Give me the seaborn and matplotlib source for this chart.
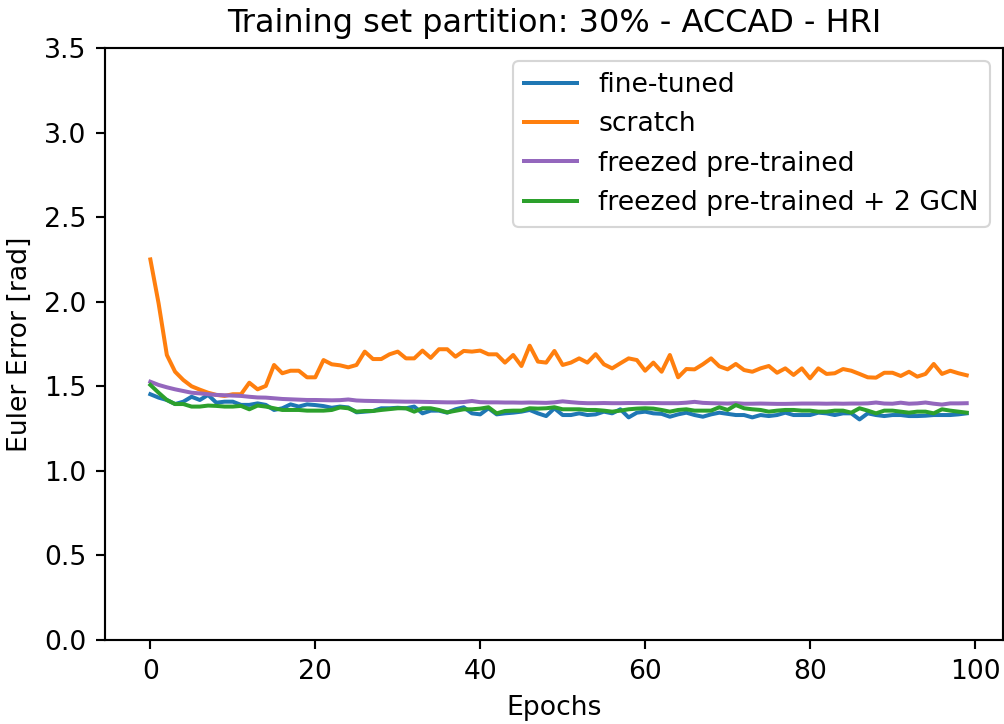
import numpy as np
import pandas as pd
import matplotlib
matplotlib.use("Agg")
import matplotlib.pyplot as plt
import seaborn as sns

title = "Training set partition: 30% - ACCAD - HRI"
labels = ["fine-tuned", "scratch", "freezed pre-trained", "freezed pre-trained + 2 GCN"]
colors = ["#1f77b4", "#ff7f0e", "#9467bd", "#2ca02c"]

fine_tuned = [
    1.453, 1.433, 1.419, 1.395, 1.409, 1.438, 1.419, 1.449, 1.403, 1.409,
    1.409, 1.390, 1.390, 1.399, 1.390, 1.360, 1.370, 1.393, 1.380, 1.393,
    1.389, 1.383, 1.373, 1.380, 1.375, 1.346, 1.350, 1.354, 1.370, 1.370,
    1.373, 1.370, 1.380, 1.340, 1.356, 1.356, 1.344, 1.364, 1.376, 1.340,
    1.334, 1.370, 1.334, 1.340, 1.344, 1.350, 1.360, 1.340, 1.324, 1.370,
    1.330, 1.330, 1.340, 1.330, 1.334, 1.350, 1.340, 1.364, 1.316, 1.344,
    1.350, 1.340, 1.337, 1.320, 1.334, 1.344, 1.330, 1.320, 1.334, 1.344,
    1.337, 1.330, 1.330, 1.316, 1.330, 1.324, 1.330, 1.344, 1.330, 1.330,
    1.330, 1.344, 1.340, 1.330, 1.340, 1.340, 1.304, 1.340, 1.330, 1.324,
    1.330, 1.330, 1.324, 1.324, 1.326, 1.330, 1.330, 1.330, 1.334, 1.340,
]

scratch = [
    2.250, 1.990, 1.685, 1.586, 1.537, 1.500, 1.480, 1.462, 1.449, 1.443,
    1.453, 1.453, 1.521, 1.482, 1.502, 1.626, 1.577, 1.592, 1.592, 1.553,
    1.553, 1.655, 1.630, 1.624, 1.612, 1.626, 1.705, 1.661, 1.661, 1.689,
    1.705, 1.665, 1.665, 1.711, 1.668, 1.719, 1.719, 1.675, 1.709, 1.705,
    1.711, 1.689, 1.689, 1.640, 1.685, 1.620, 1.740, 1.646, 1.640, 1.709,
    1.626, 1.640, 1.665, 1.640, 1.690, 1.630, 1.606, 1.636, 1.665, 1.655,
    1.592, 1.640, 1.586, 1.685, 1.553, 1.602, 1.600, 1.630, 1.665, 1.618,
    1.600, 1.632, 1.596, 1.586, 1.606, 1.620, 1.580, 1.606, 1.567, 1.606,
    1.547, 1.606, 1.573, 1.577, 1.602, 1.592, 1.573, 1.553, 1.551, 1.580,
    1.580, 1.561, 1.586, 1.557, 1.573, 1.632, 1.573, 1.592, 1.577, 1.565,
]

freezed = [
    1.527, 1.508, 1.494, 1.482, 1.472, 1.462, 1.458, 1.453, 1.449, 1.447,
    1.445, 1.443, 1.438, 1.434, 1.433, 1.429, 1.425, 1.423, 1.421, 1.419,
    1.419, 1.418, 1.417, 1.418, 1.422, 1.416, 1.414, 1.413, 1.412, 1.411,
    1.410, 1.409, 1.409, 1.408, 1.407, 1.406, 1.405, 1.405, 1.407, 1.413,
    1.406, 1.405, 1.405, 1.404, 1.404, 1.403, 1.404, 1.403, 1.402, 1.405,
    1.411, 1.406, 1.402, 1.400, 1.400, 1.401, 1.400, 1.400, 1.401, 1.401,
    1.400, 1.401, 1.400, 1.400, 1.400, 1.403, 1.408, 1.402, 1.400, 1.399,
    1.398, 1.400, 1.397, 1.397, 1.398, 1.397, 1.396, 1.396, 1.397, 1.398,
    1.398, 1.398, 1.397, 1.398, 1.397, 1.398, 1.398, 1.399, 1.404, 1.398,
    1.397, 1.403, 1.397, 1.399, 1.404, 1.397, 1.392, 1.399, 1.399, 1.400,
]

freezed_gcn = [
    1.508, 1.462, 1.419, 1.395, 1.395, 1.380, 1.380, 1.386, 1.384, 1.380,
    1.380, 1.384, 1.364, 1.386, 1.380, 1.370, 1.360, 1.360, 1.360, 1.356,
    1.356, 1.356, 1.360, 1.375, 1.370, 1.350, 1.354, 1.354, 1.360, 1.365,
    1.370, 1.370, 1.350, 1.370, 1.370, 1.360, 1.346, 1.355, 1.364, 1.364,
    1.368, 1.376, 1.340, 1.354, 1.356, 1.356, 1.370, 1.368, 1.370, 1.376,
    1.364, 1.364, 1.364, 1.360, 1.360, 1.356, 1.350, 1.356, 1.364, 1.368,
    1.370, 1.368, 1.360, 1.350, 1.360, 1.364, 1.356, 1.356, 1.356, 1.376,
    1.360, 1.389, 1.370, 1.364, 1.360, 1.350, 1.356, 1.360, 1.360, 1.356,
    1.356, 1.350, 1.350, 1.356, 1.356, 1.344, 1.370, 1.356, 1.340, 1.356,
    1.356, 1.350, 1.344, 1.350, 1.350, 1.340, 1.364, 1.356, 1.350, 1.344,
]

series = [fine_tuned, scratch, freezed, freezed_gcn]
epochs = np.arange(len(fine_tuned))

df = pd.concat(
    [pd.DataFrame({"Epochs": epochs, "value": vals, "model": lab})
     for lab, vals in zip(labels, series)],
    ignore_index=True,
)

s = 1.28  # scale of the original rendering relative to 150 dpi
plt.rcParams["font.family"] = ["DejaVu Sans"]
plt.rcParams.update({
    "axes.linewidth": 0.8 * s,
    "xtick.major.size": 3.5 * s, "ytick.major.size": 3.5 * s,
    "xtick.major.width": 0.8 * s, "ytick.major.width": 0.8 * s,
    "xtick.major.pad": 3.5 * s, "ytick.major.pad": 3.5 * s,
    "axes.labelpad": 4.0 * s, "axes.titlepad": 6.0 * s,
})

fig = plt.figure(figsize=(1004 / 150, 724 / 150), dpi=150)
ax = fig.add_axes([105 / 1004, 1 - 640 / 724, (1003 - 105) / 1004, (640 - 48) / 724])

sns.lineplot(data=df, x="Epochs", y="value", hue="model", hue_order=labels,
             palette=dict(zip(labels, colors)), linewidth=1.5 * s, ax=ax)

ax.set_ylim(0, 3.5)
ax.set_xlim(-5.5, 103.4)
ax.set_xticks([0, 20, 40, 60, 80, 100])
ax.set_yticks(np.arange(0, 3.51, 0.5))
ax.set_xlabel("Epochs", fontsize=10 * s)
ax.set_ylabel("Euler Error [rad]", fontsize=10 * s)
ax.set_title(title, fontsize=12 * s)
ax.tick_params(labelsize=10 * s)
leg = ax.legend(loc="upper right", fontsize=10 * s, framealpha=0.8)
leg.get_frame().set_linewidth(0.8 * s)
for line in leg.get_lines():
    line.set_linewidth(1.5 * s)

fig.savefig("out.png", dpi=150)
